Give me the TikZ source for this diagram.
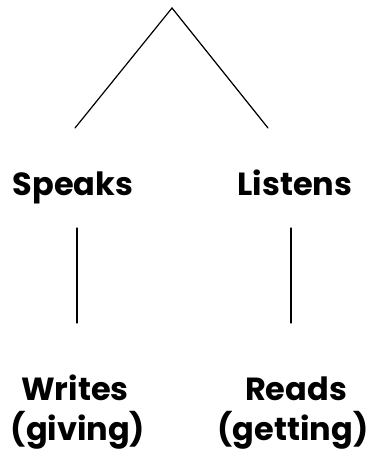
\documentclass[tikz,border=0pt]{standalone}
\usepackage{fontspec}
\setmainfont{Poppins}[BoldFont={Poppins Bold}]
\begin{document}
\begin{tikzpicture}[x=1pt,y=-1pt,
  lbl/.style={font=\bfseries\fontsize{32}{38}\selectfont, anchor=base, inner sep=0pt},
  ln/.style={line width=1.2pt, line cap=round}]
\useasboundingbox (0,0) rectangle (383,463);
\coordinate (top) at (172,8);
\coordinate (tl) at (75,128);
\coordinate (tr) at (268,128);
\coordinate (ls1) at (77,228);
\coordinate (ls2) at (77,323);
\coordinate (rs1) at (291,228);
\coordinate (rs2) at (291,323);
\node[lbl] (speaks) at (73,195) {Speaks};
\node[lbl] (listens) at (295,195) {Listens};
\node[lbl] (writes) at (75,400) {Writes};
\node[lbl] (giving) at (78,440) {(giving)};
\node[lbl] (reads) at (296,400) {Reads};
\node[lbl] (getting) at (293,440) {(getting)};
\draw[ln] (tl) -- (top) -- (tr);
\draw[ln] (ls1) -- (ls2);
\draw[ln] (rs1) -- (rs2);
\end{tikzpicture}
\end{document}
